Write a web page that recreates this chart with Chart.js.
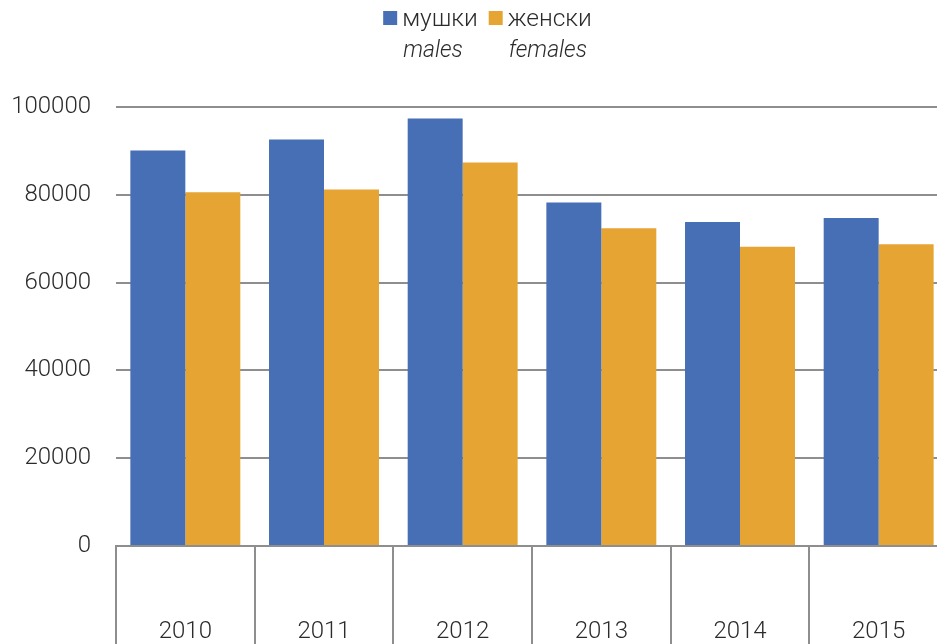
<!DOCTYPE html>
<html>
<head>
<meta charset="utf-8">
<script src="https://cdn.jsdelivr.net/npm/chart.js@4.4.1/dist/chart.umd.min.js"></script>
<style>
html,body{margin:0;padding:0;background:#fff;overflow:hidden;}
#wrap{width:937px;height:644px;overflow:hidden;position:relative;}
#cv{position:absolute;left:0;top:0;}
</style>
</head>
<body>
<div id="wrap"><canvas id="cv" width="960" height="680"></canvas></div>
<script>
const categories = ['2010', '2011', '2012', '2013', '2014', '2015'];
const males = [90100, 92600, 97400, 78250, 73800, 74700];
const females = [80600, 81200, 87350, 72400, 68150, 68750];
const seriesNames = ['мушки', 'женски'];
const seriesNamesEn = ['males', 'females'];
const yTicks = [0, 20000, 40000, 60000, 80000, 100000];

const BLUE = '#466fb6';
const ORANGE = '#e6a532';
const GRID = '#8e8e8e';
const TEXT = '#2b2b2b';
const FONT = 'Roboto';

const legendPlugin = {
  id: 'twoLineLegend',
  afterDraw(chart) {
    const ctx = chart.ctx;
    const ds = chart.data.datasets;
    ctx.save();
    const f1 = '300 24.5px ' + FONT, f2 = 'italic 300 23px ' + FONT;
    const box = 14, gap = 5, itemGap = 11;
    const widths = ds.map((d, i) => {
      ctx.font = f1;
      const w1 = ctx.measureText(seriesNames[i]).width;
      ctx.font = f2;
      const w2 = ctx.measureText(seriesNamesEn[i]).width;
      return box + gap + Math.max(w1, w2);
    });
    const total = widths.reduce((a, b) => a + b, 0) + itemGap * (ds.length - 1);
    let x = 487.5 - total / 2;
    ds.forEach((d, i) => {
      ctx.fillStyle = d.backgroundColor;
      ctx.fillRect(x, 11, box, box);
      ctx.fillStyle = TEXT;
      ctx.textBaseline = 'alphabetic';
      ctx.textAlign = 'left';
      ctx.font = f1;
      ctx.fillText(seriesNames[i], x + box + gap, 26);
      ctx.font = f2;
      ctx.fillText(seriesNamesEn[i], x + box + gap + 1, 57);
      x += widths[i] + itemGap;
    });
    ctx.restore();
  }
};

new Chart(document.getElementById('cv'), {
  type: 'bar',
  data: {
    labels: categories,
    datasets: [
      { label: seriesNames[0], data: males, backgroundColor: BLUE, barPercentage: 1, categoryPercentage: 0.793 },
      { label: seriesNames[1], data: females, backgroundColor: ORANGE, barPercentage: 1, categoryPercentage: 0.793 }
    ]
  },
  options: {
    responsive: false,
    animation: false,
    devicePixelRatio: 1,
    layout: { padding: { top: 107, left: 0, right: 12, bottom: 0 } },
    plugins: { legend: { display: false }, tooltip: { enabled: false }, title: { display: false } },
    scales: {
      x: {
        grid: { display: true, drawOnChartArea: false, drawTicks: true, tickLength: 130, color: GRID, lineWidth: 2, offset: true },
        border: { display: true, color: GRID, width: 2 },
        ticks: { color: TEXT, font: { family: FONT, size: 24, weight: '300' }, padding: -58, maxRotation: 0 },
        afterFit(scale) { scale.height = 680 - 546; }
      },
      y: {
        min: 0, max: 100000,
        afterBuildTicks(scale) { scale.ticks = yTicks.map(v => ({ value: v })); },
        grid: { color: GRID, lineWidth: 2, drawTicks: false },
        border: { display: false },
        ticks: { color: TEXT, font: { family: FONT, size: 24, weight: '300' }, padding: 25, callback: v => String(v) },
        afterFit(scale) { scale.width = 116; }
      }
    }
  },
  plugins: [legendPlugin]
});
</script>
</body>
</html>
